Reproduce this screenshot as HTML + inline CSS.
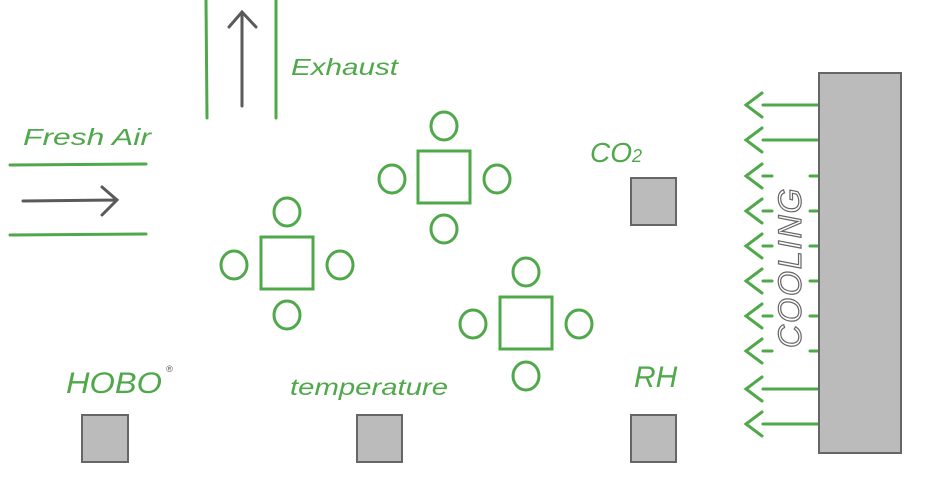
<!DOCTYPE html>
<html><head><style>
html,body{margin:0;padding:0;background:#fff;}
svg{display:block;}
text{font-family:"Liberation Sans",sans-serif;font-style:italic;}
</style></head><body>
<svg width="927" height="480" viewBox="0 0 927 480" xmlns="http://www.w3.org/2000/svg">
<g stroke="#4fa84a" stroke-width="3" fill="none" stroke-linecap="round">
  <line x1="206" y1="0" x2="207" y2="118"/>
  <line x1="276" y1="0" x2="276" y2="118"/>
  <line x1="10" y1="165" x2="146" y2="164"/>
  <line x1="10" y1="235" x2="146" y2="234"/>
  <rect x="261" y="237" width="52" height="52"/>
  <ellipse cx="287" cy="212" rx="13" ry="14"/>
  <ellipse cx="287" cy="315" rx="13" ry="14"/>
  <ellipse cx="234" cy="265" rx="13" ry="14"/>
  <ellipse cx="340" cy="265" rx="13" ry="14"/>
  <rect x="418" y="151" width="52" height="52"/>
  <ellipse cx="444" cy="126" rx="13" ry="14"/>
  <ellipse cx="444" cy="229" rx="13" ry="14"/>
  <ellipse cx="392" cy="179" rx="13" ry="14"/>
  <ellipse cx="497" cy="179" rx="13" ry="14"/>
  <rect x="500" y="297" width="52" height="52"/>
  <ellipse cx="526" cy="272" rx="13" ry="14"/>
  <ellipse cx="526" cy="376" rx="13" ry="14"/>
  <ellipse cx="473" cy="324" rx="13" ry="14"/>
  <ellipse cx="579" cy="324" rx="13" ry="14"/>
  <g>
    <path d="M762 93 L746 105 L762 117 M763 105 L818 105"/>
    <path d="M762 128 L746 140 L762 152 M763 140 L818 140"/>
    <path d="M762 164 L746 176 L762 188 M763 176 L772 176 M810 176 L818 176"/>
    <path d="M762 199 L746 211 L762 223 M763 211 L772 211 M810 211 L818 211"/>
    <path d="M762 234 L746 246 L762 258 M763 246 L772 246 M810 246 L818 246"/>
    <path d="M762 269 L746 281 L762 293 M763 281 L772 281 M810 281 L818 281"/>
    <path d="M762 304 L746 316 L762 328 M763 316 L772 316 M810 316 L818 316"/>
    <path d="M762 339 L746 351 L762 363 M763 351 L772 351 M810 351 L818 351"/>
    <path d="M762 377 L746 389 L762 401 M763 389 L818 389"/>
    <path d="M762 412 L746 424 L762 436 M763 424 L818 424"/>
  </g>
</g>
<g stroke="#5a5a5a" stroke-width="3" fill="none" stroke-linecap="round">
  <path d="M242 106 L242 14 M229 27 L242 12 L256 27"/>
  <path d="M23 201 L116 200 M102 187 L117 200 L102 215"/>
</g>
<g fill="#bbbbbb" stroke="#666" stroke-width="2">
  <rect x="819" y="73" width="82" height="380"/>
  <rect x="631" y="178" width="45" height="47"/>
  <rect x="82" y="415" width="46" height="47"/>
  <rect x="357" y="415" width="45" height="47"/>
  <rect x="631" y="415" width="45" height="47"/>
</g>
<g fill="#4fa84a">
  <text x="291" y="75" font-size="23" textLength="107" lengthAdjust="spacingAndGlyphs">Exhaust</text>
  <text x="23" y="145" font-size="23" textLength="128" lengthAdjust="spacingAndGlyphs">Fresh Air</text>
  <text x="590" y="162" font-size="28">CO<tspan font-size="18">2</tspan></text>
  <text x="66" y="393" font-size="30" textLength="96" lengthAdjust="spacingAndGlyphs">HOBO</text>
  <text x="166" y="372" font-size="9" fill="#555">®</text>
  <text x="290" y="395" font-size="23" textLength="158" lengthAdjust="spacingAndGlyphs">temperature</text>
  <text x="634" y="387" font-size="30">RH</text>
</g>
<text transform="translate(801,348) rotate(-90)" font-size="32" fill="#fff" stroke="#666" stroke-width="1.2" letter-spacing="2">COOLING</text>
</svg>
</body></html>
